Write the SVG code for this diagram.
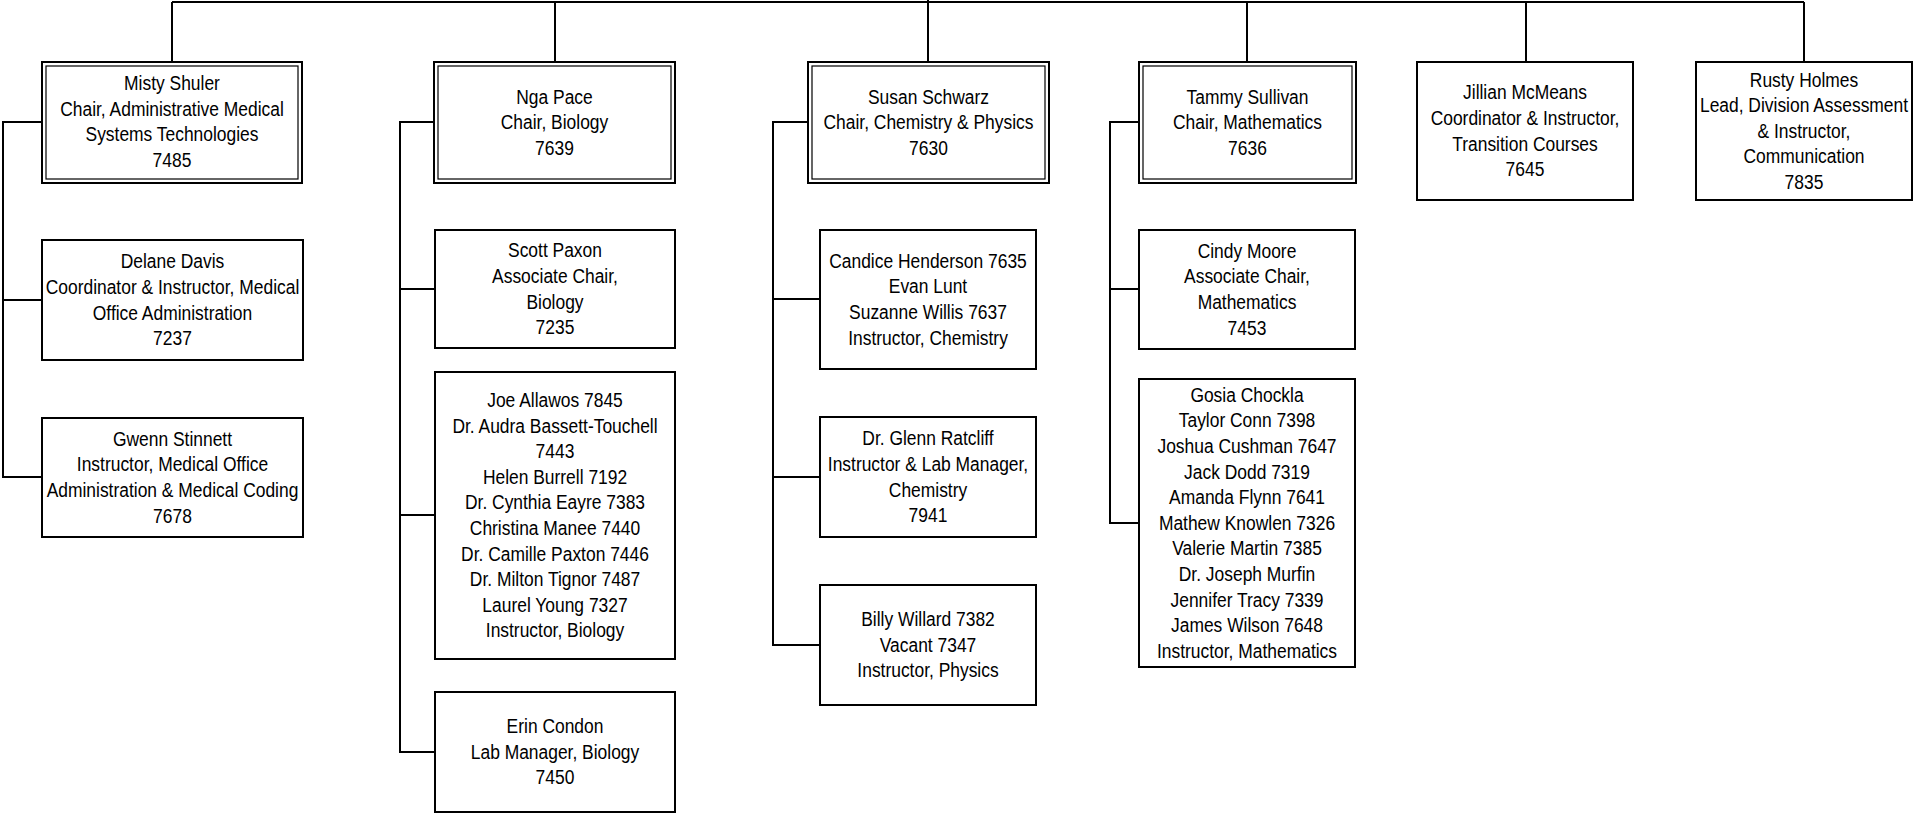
<svg xmlns="http://www.w3.org/2000/svg" width="1916" height="814" viewBox="0 0 1916 814">
<style>
.bg{fill:#ffffff}
.box{fill:#ffffff;stroke:#000000;stroke-width:2}
.inner{fill:none;stroke:#000000;stroke-width:1.2}
.conn{fill:none;stroke:#000000;stroke-width:2}
text{font-family:"Liberation Sans",Arial,sans-serif;font-size:21px;fill:#000000;text-anchor:middle}
</style>
<rect class="bg" x="0" y="0" width="1916" height="814"/>
<g id="connectors">
<path class="conn" d="M172 2 H1804"/>
<path class="conn" d="M172 2 V62 M555 2 V62 M928 0 V62 M1247 2 V62 M1526 2 V62 M1804 2 V62"/>
<path class="conn" d="M42 122 H3 V477 H42 M3 300 H42"/>
<path class="conn" d="M434 122 H400 V752 H435 M400 289 H435 M400 515 H435"/>
<path class="conn" d="M808 122 H773 V645 H820 M773 299 H820 M773 477 H820"/>
<path class="conn" d="M1139 122 H1110 V523 H1139 M1110 289 H1139"/>
</g>
<g id="misty">
<rect class="box" x="42" y="62" width="260" height="121"/>
<rect class="inner" x="46" y="66" width="252" height="113"/>
<text transform="translate(172 0) scale(0.83 1)"><tspan x="0" y="90">Misty Shuler</tspan><tspan x="0" y="115.6">Chair, Administrative Medical</tspan><tspan x="0" y="141.2">Systems Technologies</tspan><tspan x="0" y="166.8">7485</tspan></text>
</g>
<g id="nga">
<rect class="box" x="434" y="62" width="241" height="121"/>
<rect class="inner" x="438" y="66" width="233" height="113"/>
<text transform="translate(554.5 0) scale(0.83 1)"><tspan x="0" y="103.7">Nga Pace</tspan><tspan x="0" y="129.3">Chair, Biology</tspan><tspan x="0" y="154.9">7639</tspan></text>
</g>
<g id="susan">
<rect class="box" x="808" y="62" width="241" height="121"/>
<rect class="inner" x="812" y="66" width="233" height="113"/>
<text transform="translate(928.5 0) scale(0.83 1)"><tspan x="0" y="103.7">Susan Schwarz</tspan><tspan x="0" y="129.3">Chair, Chemistry &amp; Physics</tspan><tspan x="0" y="154.9">7630</tspan></text>
</g>
<g id="tammy">
<rect class="box" x="1139" y="62" width="217" height="121"/>
<rect class="inner" x="1143" y="66" width="209" height="113"/>
<text transform="translate(1247.5 0) scale(0.83 1)"><tspan x="0" y="103.7">Tammy Sullivan</tspan><tspan x="0" y="129.3">Chair, Mathematics</tspan><tspan x="0" y="154.9">7636</tspan></text>
</g>
<g id="jillian">
<rect class="box" x="1417" y="62" width="216" height="138"/>
<text transform="translate(1525 0) scale(0.83 1)"><tspan x="0" y="99.4">Jillian McMeans</tspan><tspan x="0" y="125">Coordinator &amp; Instructor,</tspan><tspan x="0" y="150.6">Transition Courses</tspan><tspan x="0" y="176.2">7645</tspan></text>
</g>
<g id="rusty">
<rect class="box" x="1696" y="62" width="216" height="138"/>
<text transform="translate(1804 0) scale(0.83 1)"><tspan x="0" y="86.6">Rusty Holmes</tspan><tspan x="0" y="112.2">Lead, Division Assessment</tspan><tspan x="0" y="137.8">&amp; Instructor,</tspan><tspan x="0" y="163.4">Communication</tspan><tspan x="0" y="189">7835</tspan></text>
</g>
<g id="delane">
<rect class="box" x="42" y="240" width="261" height="120"/>
<text transform="translate(172.5 0) scale(0.83 1)"><tspan x="0" y="268.4">Delane Davis</tspan><tspan x="0" y="294">Coordinator &amp; Instructor, Medical</tspan><tspan x="0" y="319.6">Office Administration</tspan><tspan x="0" y="345.2">7237</tspan></text>
</g>
<g id="gwenn">
<rect class="box" x="42" y="418" width="261" height="119"/>
<text transform="translate(172.5 0) scale(0.83 1)"><tspan x="0" y="445.9">Gwenn Stinnett</tspan><tspan x="0" y="471.5">Instructor, Medical Office</tspan><tspan x="0" y="497.1">Administration &amp; Medical Coding</tspan><tspan x="0" y="522.7">7678</tspan></text>
</g>
<g id="scott">
<rect class="box" x="435" y="230" width="240" height="118"/>
<text transform="translate(555 0) scale(0.83 1)"><tspan x="0" y="257.4">Scott Paxon</tspan><tspan x="0" y="283">Associate Chair,</tspan><tspan x="0" y="308.6">Biology</tspan><tspan x="0" y="334.2">7235</tspan></text>
</g>
<g id="biology-instructors">
<rect class="box" x="435" y="372" width="240" height="287"/>
<text transform="translate(555 0) scale(0.83 1)"><tspan x="0" y="407.1">Joe Allawos 7845</tspan><tspan x="0" y="432.7">Dr. Audra Bassett-Touchell</tspan><tspan x="0" y="458.3">7443</tspan><tspan x="0" y="483.9">Helen Burrell 7192</tspan><tspan x="0" y="509.5">Dr. Cynthia Eayre 7383</tspan><tspan x="0" y="535.1">Christina Manee 7440</tspan><tspan x="0" y="560.7">Dr. Camille Paxton 7446</tspan><tspan x="0" y="586.3">Dr. Milton Tignor  7487</tspan><tspan x="0" y="611.9">Laurel Young 7327</tspan><tspan x="0" y="637.5">Instructor, Biology</tspan></text>
</g>
<g id="erin">
<rect class="box" x="435" y="692" width="240" height="120"/>
<text transform="translate(555 0) scale(0.83 1)"><tspan x="0" y="733.2">Erin Condon</tspan><tspan x="0" y="758.8">Lab Manager, Biology</tspan><tspan x="0" y="784.4">7450</tspan></text>
</g>
<g id="chemistry-instructors">
<rect class="box" x="820" y="230" width="216" height="139"/>
<text transform="translate(928 0) scale(0.83 1)"><tspan x="0" y="267.9">Candice Henderson 7635</tspan><tspan x="0" y="293.5">Evan Lunt</tspan><tspan x="0" y="319.1">Suzanne Willis 7637</tspan><tspan x="0" y="344.7">Instructor, Chemistry</tspan></text>
</g>
<g id="glenn">
<rect class="box" x="820" y="417" width="216" height="120"/>
<text transform="translate(928 0) scale(0.83 1)"><tspan x="0" y="445.4">Dr. Glenn Ratcliff</tspan><tspan x="0" y="471">Instructor &amp; Lab Manager,</tspan><tspan x="0" y="496.6">Chemistry</tspan><tspan x="0" y="522.2">7941</tspan></text>
</g>
<g id="physics-instructors">
<rect class="box" x="820" y="585" width="216" height="120"/>
<text transform="translate(928 0) scale(0.83 1)"><tspan x="0" y="626.2">Billy Willard 7382</tspan><tspan x="0" y="651.8">Vacant 7347</tspan><tspan x="0" y="677.4">Instructor, Physics</tspan></text>
</g>
<g id="cindy">
<rect class="box" x="1139" y="230" width="216" height="119"/>
<text transform="translate(1247 0) scale(0.83 1)"><tspan x="0" y="257.9">Cindy Moore</tspan><tspan x="0" y="283.5">Associate Chair,</tspan><tspan x="0" y="309.1">Mathematics</tspan><tspan x="0" y="334.7">7453</tspan></text>
</g>
<g id="math-instructors">
<rect class="box" x="1139" y="379" width="216" height="288"/>
<text transform="translate(1247 0) scale(0.83 1)"><tspan x="0" y="401.8">Gosia Chockla</tspan><tspan x="0" y="427.4">Taylor Conn 7398</tspan><tspan x="0" y="453">Joshua Cushman 7647</tspan><tspan x="0" y="478.6">Jack Dodd 7319</tspan><tspan x="0" y="504.2">Amanda Flynn 7641</tspan><tspan x="0" y="529.8">Mathew Knowlen 7326</tspan><tspan x="0" y="555.4">Valerie Martin 7385</tspan><tspan x="0" y="581">Dr. Joseph Murfin</tspan><tspan x="0" y="606.6">Jennifer Tracy 7339</tspan><tspan x="0" y="632.2">James Wilson 7648</tspan><tspan x="0" y="657.8">Instructor, Mathematics</tspan></text>
</g>
</svg>
